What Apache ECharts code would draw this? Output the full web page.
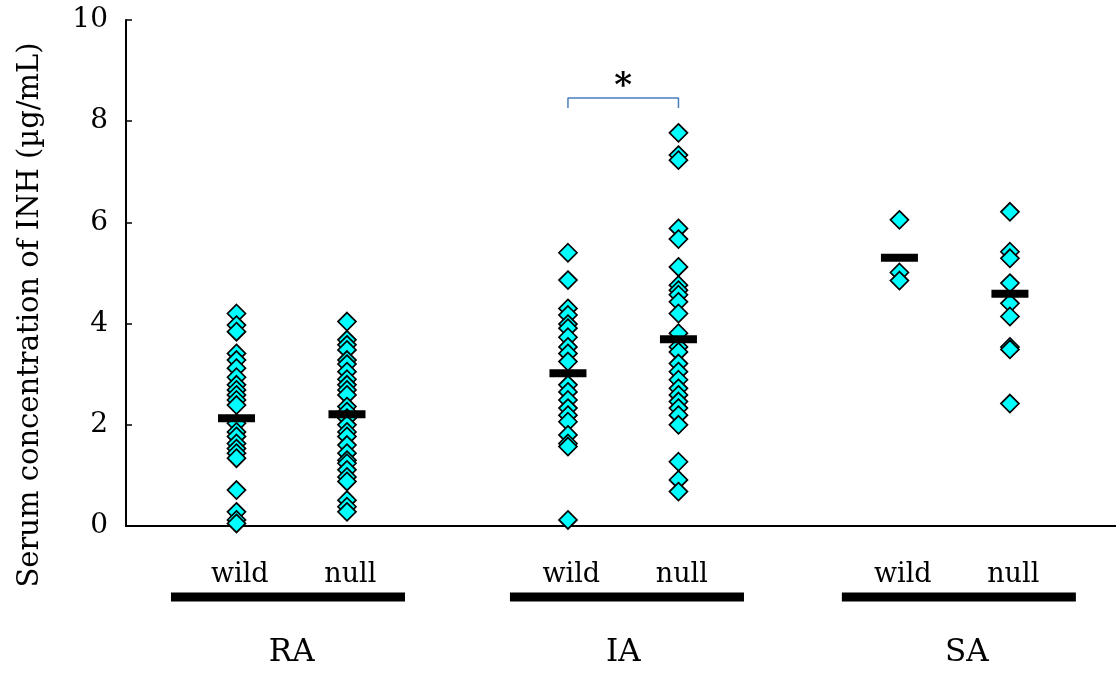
<!DOCTYPE html>
<html>
<head>
<meta charset="utf-8">
<script src="https://cdn.jsdelivr.net/npm/echarts@6/dist/echarts.min.js"></script>
<style>
  html, body { margin: 0; padding: 0; background: #fff; }
  #chart { width: 1116px; height: 675px; }
</style>
</head>
<body>
<div id="chart"></div>
<script>
// groups and sub-groups
const groups = ['RA', 'IA', 'SA']
const subGroups = ['wild', 'null']
const yTicks = [0, 2, 4, 6, 8, 10]

// serum INH values (µg/mL)
const raWild = [4.20, 3.97, 3.84, 3.41, 3.28, 3.12, 2.94, 2.79, 2.69, 2.59, 2.49, 2.39, 2.03, 1.86, 1.77, 1.63, 1.53, 1.44, 1.34, 0.71, 0.28, 0.12, 0.05]
const raNull = [4.04, 3.68, 3.58, 3.48, 3.28, 3.20, 3.05, 2.90, 2.79, 2.69, 2.59, 2.36, 2.26, 2.13, 2.00, 1.86, 1.77, 1.60, 1.44, 1.30, 1.24, 1.11, 0.97, 0.88, 0.51, 0.38, 0.28]
const iaWild = [5.40, 4.86, 4.30, 4.17, 3.99, 3.91, 3.73, 3.54, 3.41, 3.25, 2.79, 2.65, 2.49, 2.33, 2.19, 2.06, 1.80, 1.63, 1.57, 0.12]
const iaNull = [7.77, 7.33, 7.23, 5.88, 5.67, 5.12, 4.76, 4.66, 4.57, 4.43, 4.20, 3.81, 3.54, 3.44, 3.21, 3.05, 2.89, 2.72, 2.59, 2.46, 2.33, 2.19, 2.00, 1.27, 0.91, 0.68]
const saWild = [6.05, 5.01, 4.85]
const saNull = [6.21, 5.42, 5.29, 4.80, 4.40, 4.14, 3.54, 3.49, 2.42]

// group means (black bars)
const means = [2.13, 2.21, 3.02, 3.69, 5.30, 4.59]

// significance bracket between IA wild and IA null
const sigY = 8.46
const sigTickY = 8.26
const sigLabel = '*'

const allSets = [raWild, raNull, iaWild, iaNull, saWild, saNull]

// layout: x position of each sub-group on the value axis
const xPos = [1, 2, 4, 5, 7, 8]
const xMax = 8.96
const groupLabelX = [1.5, 4.5, 7.61]
const groupBarX = [1.466, 4.534, 7.538]
const barHalf = 1.059
const rowText = 49, rowBar = 71, rowGroup = 127

const FONT = 'DejaVu Serif'

const scatterSeries = allSets.map((vals, i) => ({
  type: 'scatter',
  xAxisIndex: 0, yAxisIndex: 0,
  symbol: 'diamond',
  symbolSize: [18, 18],
  itemStyle: { color: '#00ffff', borderColor: '#000', borderWidth: 1.7, opacity: 1 },
  data: vals.map(v => [xPos[i], v]),
  z: 2
}))

const meanSeries = {
  type: 'scatter',
  xAxisIndex: 0, yAxisIndex: 0,
  symbol: 'rect',
  symbolSize: [37, 8],
  itemStyle: { color: '#000', opacity: 1 },
  data: means.map((m, i) => [xPos[i], m]),
  z: 5
}

const bracketSeries = {
  type: 'line',
  xAxisIndex: 0, yAxisIndex: 0,
  symbol: 'none',
  lineStyle: { color: '#4a7ebb', width: 1.5 },
  data: [[xPos[2], sigTickY], [xPos[2], sigY], [xPos[3], sigY], [xPos[3], sigTickY]],
  z: 3
}

const textLabel = (size, extra) => Object.assign({
  show: true, position: 'inside', formatter: p => p.name,
  fontFamily: FONT, fontSize: size, color: '#000', opacity: 1
}, extra || {})

const starSeries = {
  type: 'scatter',
  xAxisIndex: 0, yAxisIndex: 0,
  symbolSize: 0,
  itemStyle: { opacity: 1 },
  label: textLabel(34, { fontWeight: 'bold' }),
  data: [{ name: sigLabel, value: [(xPos[2] + xPos[3]) / 2, 8.68] }]
}

const groupBars = groups.map((g, gi) => ({
  type: 'line',
  xAxisIndex: 1, yAxisIndex: 1,
  symbol: 'none',
  lineStyle: { color: '#000', width: 9, cap: 'butt' },
  data: [[groupBarX[gi] - barHalf, rowBar], [groupBarX[gi] + barHalf, rowBar]]
}))

const subLabels = {
  type: 'scatter',
  xAxisIndex: 1, yAxisIndex: 1,
  symbolSize: 0,
  itemStyle: { opacity: 1 },
  label: textLabel(27),
  data: xPos.map((x, i) => ({ name: subGroups[i % 2], value: [x + 0.03, rowText] }))
}

const groupLabels = {
  type: 'scatter',
  xAxisIndex: 1, yAxisIndex: 1,
  symbolSize: 0,
  itemStyle: { opacity: 1 },
  label: textLabel(31),
  data: groups.map((g, i) => ({ name: g, value: [groupLabelX[i], rowGroup] }))
}

const chart = echarts.init(document.getElementById('chart'))
chart.setOption({
  animation: false,
  grid: [
    { left: 126, right: 0, top: 20, bottom: 149 },
    { left: 126, right: 0, top: 526, height: 149 }
  ],
  xAxis: [
    {
      gridIndex: 0, type: 'value', min: 0, max: xMax,
      axisLine: { show: true, onZero: false, lineStyle: { color: '#000', width: 2 } },
      axisTick: { show: false }, axisLabel: { show: false }, splitLine: { show: false }
    },
    {
      gridIndex: 1, type: 'value', min: 0, max: xMax, show: false
    },
    {
      // top frame line
      gridIndex: 0, type: 'value', min: 0, max: xMax, position: 'top',
      axisLine: { show: true, lineStyle: { color: '#000', width: 2 } },
      axisTick: { show: false }, axisLabel: { show: false }, splitLine: { show: false }
    }
  ],
  yAxis: [
    {
      gridIndex: 0, type: 'value', min: 0, max: 10, interval: 2,
      axisLine: { show: true, lineStyle: { color: '#000', width: 2 } },
      axisTick: { show: true, inside: true, length: 6, lineStyle: { color: '#000', width: 1.5 } },
      axisLabel: {
        margin: 18, fontFamily: FONT, fontSize: 28, color: '#000',
        formatter: v => yTicks.includes(v) ? String(v) : ''
      },
      splitLine: { show: false }
    },
    {
      gridIndex: 1, type: 'value', min: 0, max: 149, inverse: true, show: false
    }
  ],
  graphic: [
    {
      type: 'text',
      x: 30, y: 315,
      rotation: Math.PI / 2,
      style: {
        text: 'Serum concentration of INH (µg/mL)',
        font: '29px "DejaVu Serif"',
        fill: '#000',
        align: 'center',
        verticalAlign: 'middle'
      }
    }
  ],
  series: [...scatterSeries, meanSeries, bracketSeries, starSeries, ...groupBars, subLabels, groupLabels]
})
</script>
</body>
</html>
